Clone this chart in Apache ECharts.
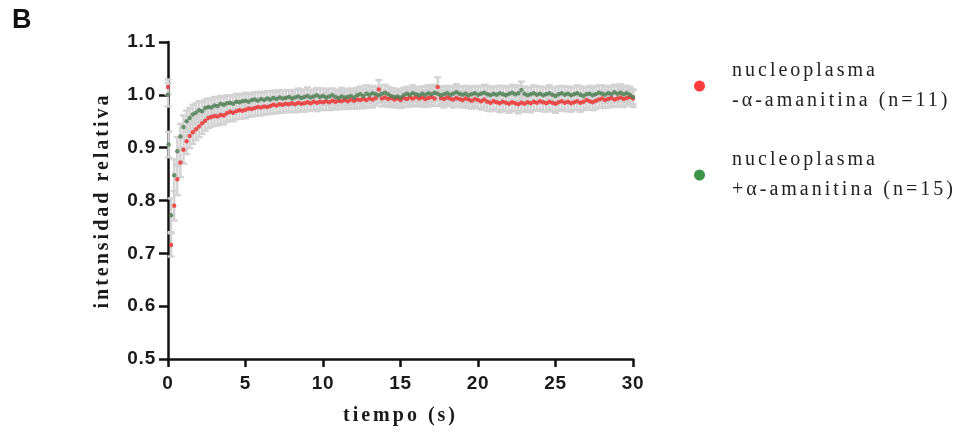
<!DOCTYPE html>
<html>
<head>
<meta charset="utf-8">
<script src="https://cdn.jsdelivr.net/npm/echarts@6/dist/echarts.min.js"></script>
<style>
  html, body { margin: 0; padding: 0; background: #ffffff; }
  #chart { width: 960px; height: 434px; }
</style>
</head>
<body>
<div id="chart"></div>
<script>
// Serif captions (axis titles, legend) are drawn with wide tracking, tick labels with a slight one.
(function () {
  const proto = CanvasRenderingContext2D.prototype;
  if (!('letterSpacing' in proto)) return;
  const fill = proto.fillText;
  proto.fillText = function (text, x, y, maxWidth) {
    const want = /Serif/.test(this.font) ? '3px' : '0.8px';
    if (this.letterSpacing !== want) {
      const f = this.font;
      this.letterSpacing = want;
      this.font = f;
    }
    if (maxWidth === undefined) fill.call(this, text, x, y);
    else fill.call(this, text, x, y, maxWidth);
  };
})();

// FRAP recovery: relative intensity vs time (s)
const tiempo = [
  0, 0.04,
  0.2, 0.4, 0.6, 0.8, 1, 1.2, 1.4, 1.6, 1.8, 2,
  2.2, 2.4, 2.6, 2.8, 3, 3.2, 3.4, 3.6, 3.8, 4,
  4.2, 4.4, 4.6, 4.8, 5, 5.2, 5.4, 5.6, 5.8, 6,
  6.2, 6.4, 6.6, 6.8, 7, 7.2, 7.4, 7.6, 7.8, 8,
  8.2, 8.4, 8.6, 8.8, 9, 9.2, 9.4, 9.6, 9.8, 10,
  10.2, 10.4, 10.6, 10.8, 11, 11.2, 11.4, 11.6, 11.8, 12,
  12.2, 12.4, 12.6, 12.8, 13, 13.2, 13.4, 13.6, 13.8, 14,
  14.2, 14.4, 14.6, 14.8, 15, 15.2, 15.4, 15.6, 15.8, 16,
  16.2, 16.4, 16.6, 16.8, 17, 17.2, 17.4, 17.6, 17.8, 18,
  18.2, 18.4, 18.6, 18.8, 19, 19.2, 19.4, 19.6, 19.8, 20,
  20.2, 20.4, 20.6, 20.8, 21, 21.2, 21.4, 21.6, 21.8, 22,
  22.2, 22.4, 22.6, 22.8, 23, 23.2, 23.4, 23.6, 23.8, 24,
  24.2, 24.4, 24.6, 24.8, 25, 25.2, 25.4, 25.6, 25.8, 26,
  26.2, 26.4, 26.6, 26.8, 27, 27.2, 27.4, 27.6, 27.8, 28,
  28.2, 28.4, 28.6, 28.8, 29, 29.2, 29.4, 29.6, 29.8, 30
];

// nucleoplasma -α-amanitina (n=11)
const menosAmanitina = [
  1.015, null,
  0.716, 0.790, 0.840, 0.872, 0.896, 0.912, 0.922, 0.929, 0.935, 0.940,
  0.946, 0.951, 0.956, 0.958, 0.960, 0.959, 0.962, 0.961, 0.965, 0.968,
  0.966, 0.969, 0.971, 0.970, 0.972, 0.974, 0.973, 0.975, 0.977, 0.976,
  0.978, 0.977, 0.979, 0.981, 0.980, 0.982, 0.981, 0.983, 0.982, 0.984,
  0.982, 0.985, 0.983, 0.984, 0.986, 0.984, 0.987, 0.985, 0.987, 0.986,
  0.988, 0.986, 0.989, 0.987, 0.989, 0.988, 0.990, 0.988, 0.991, 0.989,
  0.991, 0.990, 0.992, 0.990, 0.993, 0.991, 0.994, 1.010, 0.993, 0.995,
  0.992, 0.994, 0.991, 0.993, 0.990, 0.994, 0.992, 0.995, 0.993, 0.996,
  0.993, 0.995, 0.992, 0.994, 0.996, 0.993, 1.015, 0.994, 0.992, 0.995,
  0.993, 0.991, 0.994, 0.992, 0.990, 0.993, 0.991, 0.989, 0.992, 0.990,
  0.988, 0.991, 0.987, 0.985, 0.988, 0.986, 0.984, 0.987, 0.985, 0.983,
  0.986, 0.984, 0.982, 0.985, 0.983, 0.986, 0.984, 0.987, 0.985, 0.988,
  0.986, 0.984, 0.987, 0.985, 0.983, 0.986, 0.988, 0.985, 0.987, 0.984,
  0.986, 0.988, 0.985, 0.987, 0.990, 0.988, 0.986, 0.989, 0.991, 0.993,
  0.990, 0.992, 0.994, 0.991, 0.993, 0.995, 0.992, 0.994, 0.996, 0.993
];
const errMenos = [
  0.014, null,
  0.022, 0.028, 0.030, 0.028, 0.026, 0.024, 0.023, 0.022, 0.021, 0.020,
  0.020, 0.019, 0.019, 0.018, 0.018, 0.017, 0.017, 0.017, 0.016, 0.016,
  0.016, 0.015, 0.016, 0.015, 0.016, 0.015, 0.014, 0.015, 0.016, 0.015,
  0.015, 0.014, 0.015, 0.016, 0.015, 0.014, 0.015, 0.014, 0.015, 0.016,
  0.015, 0.014, 0.015, 0.016, 0.015, 0.014, 0.015, 0.016, 0.014, 0.015,
  0.016, 0.015, 0.014, 0.015, 0.016, 0.015, 0.014, 0.015, 0.016, 0.015,
  0.015, 0.016, 0.014, 0.015, 0.016, 0.015, 0.014, 0.018, 0.015, 0.014,
  0.015, 0.016, 0.015, 0.014, 0.015, 0.016, 0.015, 0.014, 0.015, 0.016,
  0.015, 0.014, 0.015, 0.016, 0.015, 0.014, 0.018, 0.015, 0.016, 0.015,
  0.014, 0.015, 0.016, 0.015, 0.014, 0.015, 0.016, 0.015, 0.014, 0.015,
  0.016, 0.015, 0.017, 0.016, 0.015, 0.016, 0.017, 0.015, 0.016, 0.017,
  0.016, 0.015, 0.017, 0.016, 0.015, 0.016, 0.017, 0.016, 0.015, 0.016,
  0.017, 0.016, 0.015, 0.016, 0.017, 0.016, 0.015, 0.016, 0.017, 0.016,
  0.015, 0.016, 0.017, 0.016, 0.015, 0.016, 0.015, 0.016, 0.015, 0.016,
  0.015, 0.016, 0.015, 0.014, 0.015, 0.016, 0.015, 0.014, 0.015, 0.016
];

// nucleoplasma +α-amanitina (n=15)
const masAmanitina = [
  1.000, 0.906,
  0.772, 0.848, 0.893, 0.921, 0.939, 0.950, 0.956, 0.963, 0.966, 0.971,
  0.969, 0.975, 0.977, 0.976, 0.980, 0.979, 0.983, 0.981, 0.984, 0.985,
  0.983, 0.987, 0.986, 0.988, 0.989, 0.987, 0.990, 0.991, 0.989, 0.992,
  0.990, 0.993, 0.991, 0.994, 0.992, 0.995, 0.993, 0.994, 0.996, 0.993,
  0.995, 0.997, 0.994, 0.996, 0.998, 0.995, 0.997, 0.999, 0.996, 0.998,
  0.995, 0.997, 0.999, 0.996, 0.994, 0.997, 0.995, 0.996, 0.998, 0.995,
  0.999, 1.001, 0.998, 1.002, 1.000, 1.003, 1.001, 0.999, 1.002, 1.004,
  1.001, 0.998, 0.996, 0.997, 0.995, 0.999, 1.002, 1.000, 1.003, 1.001,
  0.999, 1.002, 1.000, 1.003, 1.001, 1.004, 1.002, 0.999, 1.001, 1.003,
  1.000, 1.002, 1.005, 1.002, 1.000, 1.002, 0.999, 1.001, 1.003, 1.000,
  1.002, 1.004, 1.001, 0.999, 1.002, 1.000, 1.003, 1.001, 0.999, 1.002,
  1.004, 1.001, 1.003, 1.009, 1.002, 0.999, 1.001, 1.003, 1.000, 1.002,
  0.999, 1.001, 1.003, 1.000, 0.998, 1.001, 1.003, 1.000, 1.002, 0.999,
  1.001, 1.003, 1.000, 0.998, 1.001, 1.002, 0.999, 1.001, 1.004, 1.002,
  1.000, 1.003, 1.001, 1.005, 1.002, 1.004, 1.001, 1.003, 1.000, 0.996
];
const errMas = [
  0.022, 0.024,
  0.032, 0.030, 0.027, 0.024, 0.022, 0.020, 0.019, 0.018, 0.018, 0.017,
  0.017, 0.016, 0.016, 0.015, 0.016, 0.015, 0.015, 0.014, 0.015, 0.014,
  0.014, 0.015, 0.013, 0.014, 0.015, 0.014, 0.013, 0.014, 0.015, 0.014,
  0.013, 0.014, 0.015, 0.014, 0.013, 0.014, 0.015, 0.014, 0.013, 0.014,
  0.014, 0.015, 0.013, 0.014, 0.016, 0.014, 0.013, 0.014, 0.015, 0.014,
  0.015, 0.014, 0.013, 0.014, 0.015, 0.016, 0.014, 0.015, 0.014, 0.013,
  0.014, 0.015, 0.014, 0.016, 0.015, 0.014, 0.015, 0.014, 0.016, 0.015,
  0.014, 0.015, 0.016, 0.014, 0.015, 0.014, 0.013, 0.014, 0.015, 0.014,
  0.015, 0.014, 0.016, 0.015, 0.014, 0.015, 0.014, 0.016, 0.015, 0.014,
  0.015, 0.014, 0.015, 0.014, 0.016, 0.015, 0.014, 0.015, 0.014, 0.015,
  0.014, 0.015, 0.016, 0.015, 0.014, 0.015, 0.014, 0.016, 0.015, 0.014,
  0.015, 0.014, 0.015, 0.016, 0.014, 0.015, 0.014, 0.015, 0.016, 0.014,
  0.015, 0.014, 0.015, 0.014, 0.016, 0.015, 0.014, 0.015, 0.014, 0.015,
  0.014, 0.015, 0.016, 0.015, 0.014, 0.015, 0.014, 0.015, 0.014, 0.016,
  0.015, 0.014, 0.015, 0.014, 0.015, 0.016, 0.015, 0.014, 0.015, 0.014
];

const nombres = [
  'nucleoplasma\n-α-amanitina (n=11)',
  'nucleoplasma\n+α-amanitina (n=15)'
];
const yTicks = [0.5, 0.6, 0.7, 0.8, 0.9, 1.0, 1.1];
const xTicks = [0, 5, 10, 15, 20, 25, 30];

const SERIF = 'Liberation Serif';
const SANS = 'Liberation Sans';
const ellipse = 'path://M0,10A10,10,0,1,1,20,10A10,10,0,1,1,0,10Z';

function points(vals) {
  const out = [];
  tiempo.forEach((t, i) => { if (vals[i] != null) out.push([t, vals[i]]); });
  return out;
}
function bars(vals, errs) {
  const out = [];
  tiempo.forEach((t, i) => {
    if (vals[i] != null) out.push([t, vals[i] - errs[i], vals[i] + errs[i]]);
  });
  return out;
}
function renderErrorBar(params, api) {
  const x = api.value(0);
  const lo = api.coord([x, api.value(1)]);
  const hi = api.coord([x, api.value(2)]);
  const cap = 3.5;
  const style = { stroke: '#d3d3d3', lineWidth: 2.4 };
  return {
    type: 'group',
    children: [
      { type: 'line', shape: { x1: lo[0], y1: lo[1], x2: hi[0], y2: hi[1] }, style },
      { type: 'line', shape: { x1: lo[0] - cap, y1: lo[1], x2: lo[0] + cap, y2: lo[1] }, style },
      { type: 'line', shape: { x1: hi[0] - cap, y1: hi[1], x2: hi[0] + cap, y2: hi[1] }, style }
    ]
  };
}

const chart = echarts.init(document.getElementById('chart'), null, { renderer: 'canvas' });
chart.setOption({
  animation: false,
  backgroundColor: '#ffffff',
  grid: { left: 168, right: 327, top: 42, bottom: 75, containLabel: false },
  graphic: [{
    type: 'text', left: 12, top: 7,
    style: { text: 'B', fontFamily: SANS, fontWeight: 'bold', fontSize: 27, fill: '#111' }
  }],
  legend: {
    orient: 'vertical',
    left: 689, top: 51,
    itemGap: 29,
    itemWidth: 11, itemHeight: 15,
    selectedMode: false,
    textStyle: { fontFamily: SERIF, fontSize: 20, lineHeight: 30, color: '#222', padding: [0, 0, 0, 22] },
    data: [
      { name: nombres[0], icon: ellipse, itemStyle: { color: '#ff0a0a' } },
      { name: nombres[1], icon: ellipse, itemStyle: { color: '#0b7a1c' } }
    ]
  },
  xAxis: {
    type: 'value',
    min: xTicks[0], max: xTicks[xTicks.length - 1], interval: xTicks[1] - xTicks[0],
    name: 'tiempo (s)', nameLocation: 'middle', nameGap: 47,
    nameTextStyle: { fontFamily: SERIF, fontWeight: 'bold', fontSize: 20, color: '#1a1a1a' },
    axisLine: { lineStyle: { color: '#111', width: 2.5 } },
    axisTick: { length: 8, lineStyle: { color: '#111', width: 2.5 } },
    axisLabel: { margin: 15, fontFamily: SANS, fontWeight: 'bold', fontSize: 19, color: '#1a1a1a' },
    splitLine: { show: false }
  },
  yAxis: {
    type: 'value',
    min: yTicks[0], max: yTicks[yTicks.length - 1], interval: 0.1,
    name: 'intensidad relativa', nameLocation: 'middle', nameGap: 55,
    nameTextStyle: { fontFamily: SERIF, fontWeight: 'bold', fontSize: 20, color: '#1a1a1a' },
    axisLine: { show: true, lineStyle: { color: '#111', width: 2.5 } },
    axisTick: { show: true, length: 9, lineStyle: { color: '#111', width: 2.5 } },
    axisLabel: {
      margin: 12, fontFamily: SANS, fontWeight: 'bold', fontSize: 19, color: '#1a1a1a',
      formatter: v => v.toFixed(1)
    },
    splitLine: { show: false }
  },
  series: [
    { type: 'custom', name: 'err-', renderItem: renderErrorBar, data: bars(menosAmanitina, errMenos),
      encode: { x: 0, y: [1, 2] }, clip: false, silent: true },
    { type: 'custom', name: 'err+', renderItem: renderErrorBar, data: bars(masAmanitina, errMas),
      encode: { x: 0, y: [1, 2] }, clip: false, silent: true },
    { type: 'scatter', name: nombres[0], data: points(menosAmanitina), symbolSize: 4.5,
      itemStyle: { color: '#ee3030' }, clip: false },
    { type: 'scatter', name: nombres[1], data: points(masAmanitina), symbolSize: 4.5,
      itemStyle: { color: '#4b7d50' }, clip: false }
  ]
});
</script>
</body>
</html>
